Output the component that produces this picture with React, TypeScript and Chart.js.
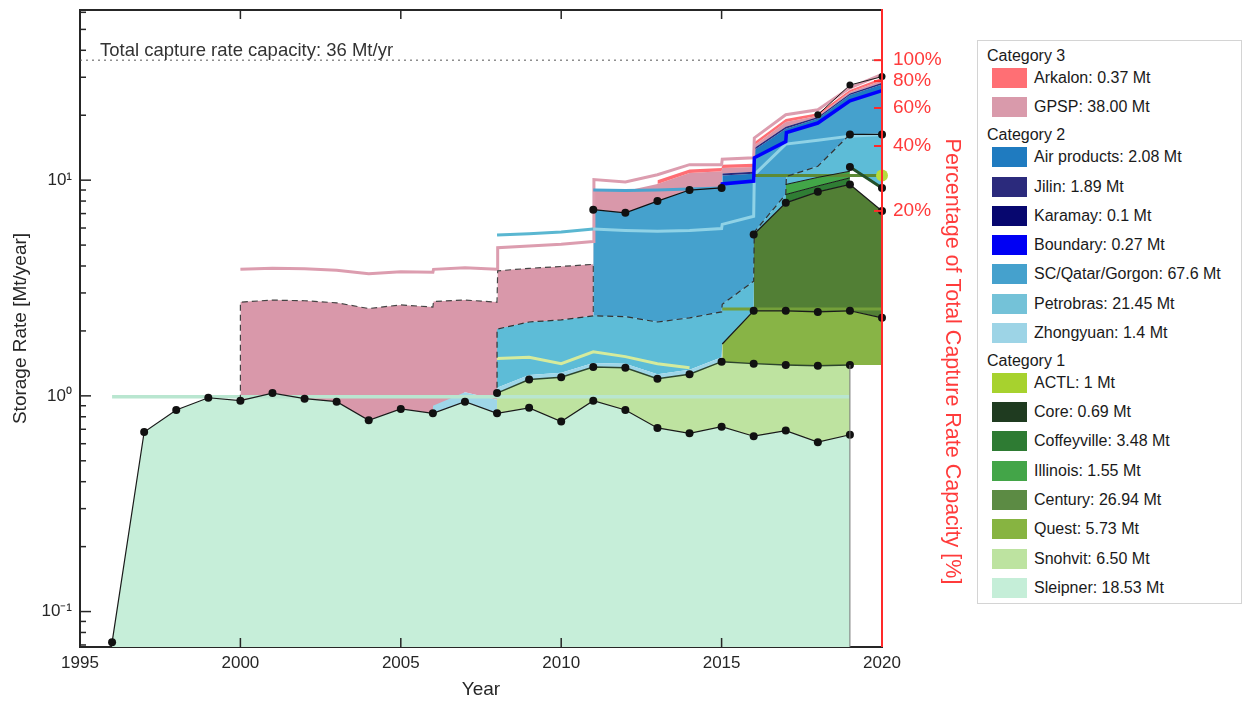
import React, { useEffect, useRef } from 'react';
import { Chart, registerables } from 'chart.js';

Chart.register(...registerables);

type Pt = { x: number; y: number };
const zip = (xs: number[], ys: number[]): Pt[] => xs.map((x, i) => ({ x, y: ys[i] }));

// ---------- axes ----------
const X_MIN = 1995;
const X_MAX = 2020;
const Y_MIN = 0.0685;
const Y_MAX = 61.5;
const TOTAL_CAPACITY = 36;
const xTickValues = [1995, 2000, 2005, 2010, 2015, 2020];
const yTickValues = [0.1, 1, 10];
const yTickLabels = ['10⁻¹', '10⁰', '10¹'];
const pctTickValues = [20, 40, 60, 80, 100];

// ---------- stacked boundaries (Mt/yr, cumulative tops) ----------
const sleipnerYears = [1996, 1997, 1998, 1999, 2000, 2001, 2002, 2003, 2004, 2005, 2006, 2007, 2008, 2009, 2010, 2011, 2012, 2013, 2014, 2015, 2016, 2017, 2018, 2019];
const sleipnerTop = [0.072, 0.68, 0.86, 0.98, 0.95, 1.03, 0.97, 0.94, 0.77, 0.87, 0.83, 0.94, 0.83, 0.88, 0.76, 0.95, 0.86, 0.71, 0.67, 0.72, 0.65, 0.69, 0.61, 0.66];

const snohvitYears = [2008, 2009, 2010, 2011, 2012, 2013, 2014, 2015, 2016, 2017, 2018, 2019];
const snohvitTop = [1.03, 1.19, 1.22, 1.36, 1.35, 1.2, 1.26, 1.44, 1.41, 1.39, 1.38, 1.39];

const zhongyuanEarlyYears = [2006, 2007, 2008];
const zhongyuanEarlyTop = [0.9, 1.04, 0.96];
const zhongyuanYears = [2008, 2009, 2010, 2011, 2012, 2013, 2014, 2015];
const zhongyuanTop = [1.09, 1.25, 1.28, 1.42, 1.41, 1.26, 1.32, 1.51];

const petrobrasYears = [2008, 2009, 2010, 2011, 2012, 2013, 2014, 2015, 2015.02, 2016, 2016.02, 2017, 2017.02, 2018, 2019, 2020];
const petrobrasTop = [2.04, 2.2, 2.25, 2.35, 2.33, 2.2, 2.3, 2.45, 2.66, 3.4, 5.75, 8.6, 10.4, 11.6, 16.3, 16.3];

const questYears = [2015.02, 2016, 2017, 2018, 2019, 2020];
const questTop = [1.74, 2.48, 2.48, 2.45, 2.48, 2.3];
const centuryYears = [2016, 2017, 2018, 2019, 2020];
const centuryTop = [5.6, 7.85, 8.83, 9.55, 7.2];
const coffeyvilleYears = [2017, 2018, 2019];
const coffeyvilleTop = [8.58, 9.4, 10.25];
const illinoisYears = [2017, 2018, 2019];
const illinoisTop = [9.55, 10.3, 11.0];
const coreYears = [2019, 2020];
const coreTop = [11.5, 9.2];
const actlYears = [2020];
const actlTop = [10.5];

const scqgYears = [2011, 2012, 2013, 2014, 2015, 2015.02, 2016, 2016.02, 2017, 2017.02, 2018, 2019, 2020];
const scqgTop = [7.3, 7.06, 8.0, 9.0, 9.2, 9.6, 9.9, 12.7, 15.1, 16.6, 18.4, 23.3, 26.0];

const airYears = [2015.02, 2016, 2016.02, 2017, 2018, 2019, 2020];
const airTop = [10.5, 10.7, 13.8, 17.3, 19.3, 24.8, 27.8];
const jilinTop = [10.75, 10.95, 14.1, 17.7, 19.65, 25.2, 28.3];

const gpspYears = [2000, 2001, 2002, 2003, 2004, 2005, 2006, 2006.02, 2007, 2008, 2008.02, 2009, 2010, 2011, 2011.02, 2012, 2013, 2014, 2015, 2015.02, 2016, 2016.02, 2017, 2018, 2019, 2020];
const gpspTop = [2.72, 2.78, 2.76, 2.7, 2.54, 2.64, 2.58, 2.74, 2.78, 2.72, 3.8, 3.9, 3.98, 4.07, 8.9, 8.9, 9.6, 10.8, 11.0, 11.4, 11.5, 14.5, 18.6, 19.9, 25.6, 29.0];

const arkalonYears = [2013, 2014, 2015, 2015.02, 2016, 2016.02, 2017, 2018, 2019, 2020];
const arkalonTop = [10.0, 11.2, 11.4, 11.8, 11.9, 15.0, 19.2, 20.4, 26.2, 29.8];

const stackTopYears = [2018, 2019, 2020];
const stackTopValues = [20.1, 27.6, 30.2];

// ---------- capacity lines ----------
const sleipnerCapYears = [1996, 2019];
const sleipnerCap = [0.99, 0.99];
const snohvitCapYears = [2008, 2009, 2010, 2011, 2012, 2013, 2014];
const snohvitCap = [1.49, 1.51, 1.41, 1.6, 1.52, 1.41, 1.35];
const questCapYears = [2015.02, 2020];
const questCap = [2.53, 2.53];
const centuryCapYears = [2016, 2020];
const centuryCap = [10.5, 10.5];
const petrobrasCapYears = [2008, 2009, 2010, 2011, 2012, 2013, 2014, 2015, 2015.02, 2016, 2016.02, 2017, 2018, 2019, 2020];
const petrobrasCap = [5.57, 5.65, 5.75, 5.93, 5.85, 5.8, 5.85, 5.97, 6.24, 6.8, 10.6, 14.7, 15.3, 16.0, 16.3];
const scqgCapYears = [2011, 2012, 2013, 2014, 2015];
const scqgCap = [9.0, 8.95, 9.0, 9.1, 9.2];
const gpspCapYears = [2000, 2001, 2002, 2003, 2004, 2005, 2006, 2006.02, 2007, 2008, 2008.02, 2009, 2010, 2011, 2011.02, 2012, 2013, 2014, 2015, 2015.02, 2016, 2016.02, 2017, 2018, 2019, 2020];
const gpspCap = [3.86, 3.9, 3.88, 3.82, 3.68, 3.76, 3.74, 3.86, 3.93, 3.86, 4.86, 4.95, 5.05, 5.2, 10.07, 9.8, 10.6, 11.8, 11.8, 12.5, 12.7, 15.7, 20.1, 21.2, 26.8, 30.9];

// ---------- legend ----------
const legendGroups = [
  { title: 'Category 3', items: [
    { label: 'Arkalon: 0.37 Mt', color: '#ff6f74' },
    { label: 'GPSP: 38.00 Mt', color: '#d99aab' },
  ] },
  { title: 'Category 2', items: [
    { label: 'Air products: 2.08 Mt', color: '#1f7bc0' },
    { label: 'Jilin: 1.89 Mt', color: '#2b2a7c' },
    { label: 'Karamay: 0.1 Mt', color: '#07076f' },
    { label: 'Boundary: 0.27 Mt', color: '#0000f4' },
    { label: 'SC/Qatar/Gorgon: 67.6 Mt', color: '#45a1cd' },
    { label: 'Petrobras: 21.45 Mt', color: '#74c2d8' },
    { label: 'Zhongyuan: 1.4 Mt', color: '#9dd4e6' },
  ] },
  { title: 'Category 1', items: [
    { label: 'ACTL: 1 Mt', color: '#a7d22e' },
    { label: 'Core: 0.69 Mt', color: '#1f3b20' },
    { label: 'Coffeyville: 3.48 Mt', color: '#2e7b33' },
    { label: 'Illinois: 1.55 Mt', color: '#43a548' },
    { label: 'Century: 26.94 Mt', color: '#5c8b44' },
    { label: 'Quest: 5.73 Mt', color: '#87b441' },
    { label: 'Snohvit: 6.50 Mt', color: '#bde3a0' },
    { label: 'Sleipner: 18.53 Mt', color: '#c5eed8' },
  ] },
];

const FONT = '"Liberation Sans", Arial, Helvetica, sans-serif';

function valueAt(pts: Pt[], x: number): number {
  if (x <= pts[0].x) return pts[0].y;
  for (let i = 1; i < pts.length; i++) {
    const a = pts[i - 1];
    const b = pts[i];
    if (x <= b.x) {
      if (b.x === a.x) return b.y;
      const t = (x - a.x) / (b.x - a.x);
      return Math.exp(Math.log(a.y) + t * (Math.log(b.y) - Math.log(a.y)));
    }
  }
  return pts[pts.length - 1].y;
}

function buildDatasets() {
  const sleipner = zip(sleipnerYears, sleipnerTop);
  const snohvit = zip(snohvitYears, snohvitTop);
  const zhongEarly = zip(zhongyuanEarlyYears, zhongyuanEarlyTop);
  const zhong = zip(zhongyuanYears, zhongyuanTop);
  const petrobras = zip(petrobrasYears, petrobrasTop);
  const quest = zip(questYears, questTop);
  const century = zip(centuryYears, centuryTop);
  const coffeyville = zip(coffeyvilleYears, coffeyvilleTop);
  const illinois = zip(illinoisYears, illinoisTop);
  const core = zip(coreYears, coreTop);
  const scqg = zip(scqgYears, scqgTop);
  const air = zip(airYears, airTop);
  const jilin = zip(airYears, jilinTop);
  const gpsp = zip(gpspYears, gpspTop);
  const arkalon = zip(arkalonYears, arkalonTop);

  // lower boundaries assembled from the layers underneath
  const questBase = quest.map((p) => ({ x: p.x, y: valueAt(snohvit, p.x) }));
  const petroFloor: Pt[] = [
    ...zhong,
    ...quest.filter((p) => p.x <= 2016),
    { x: 2016.02, y: valueAt(century, 2016.02) },
    { x: 2017, y: valueAt(century, 2017) },
    { x: 2017.02, y: illinois[0].y },
    ...illinois.slice(1),
    { x: 2019.02, y: valueAt(core, 2019.02) },
    ...core.slice(1),
  ];
  const gpspFloor: Pt[] = [
    ...sleipner.filter((p) => p.x >= 2000 && p.x <= 2006),
    ...zhongEarly.filter((p) => p.x > 2006),
    { x: 2008.02, y: petrobras[0].y },
    ...petrobras.filter((p) => p.x > 2008 && p.x <= 2011),
    { x: 2011.02, y: scqg[0].y },
    ...scqg.filter((p) => p.x > 2011 && p.x <= 2015),
    ...jilin,
  ];

  const gpspEdge: Pt[] = [{ x: 2000, y: valueAt(sleipner, 2000) }, ...gpsp.filter((p) => p.x <= 2011), { x: 2011, y: valueAt(petrobras, 2011) }];
  const petroEdge: Pt[] = [{ x: 2008, y: valueAt(zhong, 2008) }, ...petrobras.filter((p) => p.x <= 2019)];

  type Spec = {
    id: string; kind: 'floor' | 'area' | 'line'; data: Pt[]; color?: string; fillTo?: string;
    width?: number; dash?: number[]; dots?: number; dotColor?: string; segColor?: (x: number) => string;
  };

  const specs: Spec[] = [
    { id: 'qb', kind: 'floor', data: questBase },
    { id: 'pf', kind: 'floor', data: petroFloor },
    { id: 'gf', kind: 'floor', data: gpspFloor },

    { id: 'gpsp', kind: 'area', data: gpsp, color: '#d998aa', fillTo: 'gf' },
    { id: 'arkalon', kind: 'area', data: arkalon, color: '#ff6e74', fillTo: 'gpsp' },
    { id: 'petrobras', kind: 'area', data: petrobras, color: '#5dbcd7', fillTo: 'pf' },
    { id: 'scqg', kind: 'area', data: scqg, color: '#45a1cd', fillTo: 'petrobras' },
    { id: 'air', kind: 'area', data: air, color: '#1f7bc0', fillTo: 'scqg' },
    { id: 'jilin', kind: 'area', data: jilin, color: '#2b2b7c', fillTo: 'air' },
    { id: 'sleipner', kind: 'area', data: sleipner, color: '#c6eed9', fillTo: 'start' },
    { id: 'zhongEarly', kind: 'area', data: zhongEarly, color: '#9fd6e8', fillTo: 'sleipner' },
    { id: 'snohvit', kind: 'area', data: snohvit, color: '#bee3a0', fillTo: 'sleipner' },
    { id: 'zhong', kind: 'area', data: zhong, color: '#9fd6e8', fillTo: 'snohvit' },
    { id: 'quest', kind: 'area', data: quest, color: '#88b446', fillTo: 'qb' },
    { id: 'century', kind: 'area', data: century, color: '#527f35', fillTo: 'quest' },
    { id: 'coffeyville', kind: 'area', data: coffeyville, color: '#2f7d34', fillTo: 'century' },
    { id: 'illinois', kind: 'area', data: illinois, color: '#42a648', fillTo: 'coffeyville' },

    { id: 'sleipnerCap', kind: 'line', data: zip(sleipnerCapYears, sleipnerCap), color: '#b9e6d0', width: 3.5 },
    { id: 'snohvitCap', kind: 'line', data: zip(snohvitCapYears, snohvitCap), color: '#d5eb9c', width: 3 },
    { id: 'gpspCap', kind: 'line', data: zip(gpspCapYears, gpspCap), color: '#dc9daf', width: 3 },
    { id: 'petroCap', kind: 'line', data: zip(petrobrasCapYears, petrobrasCap), color: '#5ab7d1', width: 3,
      segColor: (x) => (x >= 2011 ? '#8fd2e6' : '#5ab7d1') },
    { id: 'scqgCap', kind: 'line', data: zip(scqgCapYears, scqgCap), color: '#4aa3cf', width: 3 },
    { id: 'questCap', kind: 'line', data: zip(questCapYears, questCap), color: '#74a03a', width: 3 },
    { id: 'centuryCap', kind: 'line', data: zip(centuryCapYears, centuryCap), color: '#5d8a35', width: 3 },

    { id: 'gpspEdge', kind: 'line', data: gpspEdge, color: '#444', width: 1.2, dash: [6, 4] },
    { id: 'petroEdge', kind: 'line', data: petroEdge, color: '#333', width: 1.2, dash: [6, 4] },
    { id: 'petroTopSolid', kind: 'line', data: petrobras.filter((p) => p.x >= 2019), color: '#111', width: 1.2, dots: 4 },
    { id: 'boundaryLine', kind: 'line', data: scqg.filter((p) => p.x >= 2015), color: '#0000ff', width: 3.5 },
    { id: 'scqgLine', kind: 'line', data: scqg.filter((p) => p.x <= 2015), color: '#111', width: 1.2, dots: 4 },
    { id: 'sleipnerLine', kind: 'line', data: sleipner, color: '#1a1a1a', width: 1.2, dots: 4 },
    { id: 'snohvitLine', kind: 'line', data: snohvit, color: '#2d452d', width: 1.4, dots: 4 },
    { id: 'questLine', kind: 'line', data: quest, color: '#1a1a1a', width: 1.2, dots: 4 },
    { id: 'centuryLine', kind: 'line', data: century, color: '#1a1a1a', width: 1.2, dots: 4 },
    { id: 'coffeyvilleLine', kind: 'line', data: coffeyville, color: '#1a1a1a', width: 1 },
    { id: 'illinoisLine', kind: 'line', data: illinois, color: '#1a1a1a', width: 1 },
    { id: 'coreLine', kind: 'line', data: core, color: '#24502a', width: 3, dots: 4 },
    { id: 'stackTop', kind: 'line', data: zip(stackTopYears, stackTopValues), color: '#1a1a1a', width: 1, dots: 3.5 },
    { id: 'sleipnerEnd', kind: 'line', data: [{ x: 2019, y: Y_MIN }, { x: 2019, y: valueAt(snohvit, 2019) }], color: '#777', width: 1 },
    { id: 'actl', kind: 'line', data: zip(actlYears, actlTop), color: '#b5dc3c', width: 0, dots: 6, dotColor: '#b5dc3c' },
  ];

  const index: Record<string, number> = {};
  specs.forEach((s, i) => { index[s.id] = i; });
  const n = specs.length;

  return specs.map((s, i) => {
    const base: any = {
      type: 'line',
      label: s.id,
      data: s.data,
      order: n - i,
      tension: 0,
      clip: 6,
    };
    if (s.kind === 'floor') {
      return { ...base, borderWidth: 0, borderColor: 'rgba(0,0,0,0)', backgroundColor: 'rgba(0,0,0,0)', pointRadius: 0, fill: false };
    }
    if (s.kind === 'area') {
      const fill = s.fillTo === 'start' ? 'start' : index[s.fillTo as string];
      return { ...base, borderWidth: 0, borderColor: 'rgba(0,0,0,0)', backgroundColor: s.color, pointRadius: 0, fill };
    }
    const r = s.dots || 0;
    const ds: any = {
      ...base,
      fill: false,
      borderColor: s.color,
      borderWidth: s.width,
      borderDash: s.dash || [],
      borderCapStyle: 'butt',
      pointRadius: (c: any) => (c.raw && Number.isInteger(c.raw.x) ? r : 0),
      pointBackgroundColor: s.dotColor || '#111',
      pointBorderWidth: 0,
      showLine: (s.width || 0) > 0,
    };
    if (s.segColor) {
      const f = s.segColor;
      ds.segment = { borderColor: (c: any) => f(c.p0.parsed.x) };
    }
    return ds;
  });
}

const decorPlugin = {
  id: 'decor',
  afterDatasetsDraw(chart: any) {
    const { ctx, chartArea: a, scales } = chart;
    const xs = scales.x;
    const ys = scales.y;
    const y2 = scales.y2;
    ctx.save();
    // total capacity dotted line
    const yCap = ys.getPixelForValue(TOTAL_CAPACITY);
    ctx.strokeStyle = '#555';
    ctx.lineWidth = 1;
    ctx.setLineDash([2, 4]);
    ctx.beginPath();
    ctx.moveTo(a.left, yCap);
    ctx.lineTo(a.right, yCap);
    ctx.stroke();
    ctx.setLineDash([]);
    ctx.fillStyle = '#333';
    ctx.font = '18.5px ' + FONT;
    ctx.textAlign = 'left';
    ctx.textBaseline = 'alphabetic';
    ctx.fillText('Total capture rate capacity: ' + TOTAL_CAPACITY + ' Mt/yr', a.left + 20, yCap - 4);
    // top frame
    ctx.strokeStyle = '#262626';
    ctx.lineWidth = 2;
    ctx.beginPath();
    ctx.moveTo(a.left, a.top);
    ctx.lineTo(a.right, a.top);
    ctx.stroke();
    // inward x ticks (bottom & top)
    ctx.lineWidth = 1.5;
    for (const v of xTickValues) {
      const px = xs.getPixelForValue(v);
      ctx.beginPath();
      ctx.moveTo(px, a.bottom);
      ctx.lineTo(px, a.bottom - 9);
      ctx.moveTo(px, a.top);
      ctx.lineTo(px, a.top + 9);
      ctx.stroke();
    }
    // inward y ticks (major + minor)
    for (let e = -2; e <= 2; e++) {
      for (let m = 1; m <= 9; m++) {
        const v = m * Math.pow(10, e);
        if (v < Y_MIN || v > Y_MAX) continue;
        const py = ys.getPixelForValue(v);
        const len = m === 1 ? 11 : 6;
        ctx.beginPath();
        ctx.moveTo(a.left, py);
        ctx.lineTo(a.left + len, py);
        ctx.stroke();
      }
    }
    // red right axis line and percentage ticks
    ctx.strokeStyle = '#ff2a2a';
    ctx.lineWidth = 2;
    ctx.beginPath();
    ctx.moveTo(a.right, a.top - 1);
    ctx.lineTo(a.right, a.bottom);
    ctx.stroke();
    for (const p of pctTickValues) {
      const py = y2.getPixelForValue(p);
      ctx.beginPath();
      ctx.moveTo(a.right - 8, py);
      ctx.lineTo(a.right, py);
      ctx.stroke();
    }
    // right axis title
    ctx.fillStyle = '#ff3b3b';
    ctx.font = '21.5px ' + FONT;
    ctx.translate(a.right + 70, (a.top + a.bottom) / 2 + 33);
    ctx.rotate(Math.PI / 2);
    ctx.textAlign = 'center';
    ctx.textBaseline = 'middle';
    ctx.fillText('Percentage of Total Capture Rate Capacity [%]', 0, 0);
    ctx.restore();
  },
};

const zeroPad = (s: any) => {
  s.paddingTop = 0;
  s.paddingBottom = 0;
  s.paddingLeft = 0;
  s.paddingRight = 0;
};

export default function App() {
  const ref = useRef<HTMLCanvasElement | null>(null);

  useEffect(() => {
    const canvas = ref.current;
    if (!canvas) return;
    Chart.defaults.font.family = FONT;
    const chart = new Chart(canvas, {
      type: 'line',
      data: { datasets: buildDatasets() },
      plugins: [decorPlugin],
      options: {
        responsive: false,
        animation: false,
        devicePixelRatio: 1,
        layout: { padding: { left: 0, right: 274, top: 10, bottom: 0 } },
        plugins: { legend: { display: false }, tooltip: { enabled: false } },
        scales: {
          x: {
            type: 'linear', min: X_MIN, max: X_MAX, bounds: 'data', z: 1,
            afterBuildTicks: (s: any) => { s.ticks = xTickValues.map((v) => ({ value: v })); },
            afterFit: (s: any) => { s.height = 55; zeroPad(s); },
            grid: { display: false, drawTicks: false },
            border: { display: true, color: '#262626', width: 2 },
            ticks: { color: '#262626', font: { size: 17 }, padding: 6, maxRotation: 0, autoSkip: false, callback: (v: any) => String(v) },
            title: { display: true, text: 'Year', color: '#262626', font: { size: 19 }, padding: { top: 0, bottom: 1 } },
          },
          y: {
            type: 'logarithmic', position: 'left', min: Y_MIN, max: Y_MAX, bounds: 'data', z: 1,
            afterBuildTicks: (s: any) => { s.ticks = yTickValues.map((v) => ({ value: v })); },
            afterFit: (s: any) => { s.width = 80; zeroPad(s); },
            grid: { display: false, drawTicks: false },
            border: { display: true, color: '#262626', width: 2 },
            ticks: { color: '#262626', font: { size: 17 }, padding: 8, autoSkip: false, callback: (_v: any, i: number) => yTickLabels[i] },
            title: { display: true, text: 'Storage Rate [Mt/year]', color: '#262626', font: { size: 19 }, padding: { top: 9, bottom: 0 } },
          },
          y2: {
            type: 'logarithmic', position: 'right', min: (Y_MIN / TOTAL_CAPACITY) * 100, max: (Y_MAX / TOTAL_CAPACITY) * 100, bounds: 'data', z: 1,
            afterBuildTicks: (s: any) => { s.ticks = pctTickValues.map((v) => ({ value: v })); },
            afterFit: (s: any) => { s.width = 90; zeroPad(s); },
            grid: { display: false, drawTicks: false },
            border: { display: false },
            ticks: { color: '#ff3b3b', font: { size: 19 }, padding: 11, autoSkip: false, callback: (v: any) => v + '%' },
          },
        },
      } as any,
    });
    return () => chart.destroy();
  }, []);

  return (
    <div style={{ position: 'fixed', left: 0, top: 0, width: 1246, height: 702, background: '#fff', fontFamily: FONT }}>
      <canvas ref={ref} width={1246} height={702} style={{ position: 'absolute', left: 0, top: 0, width: 1246, height: 702 }} />
      <div style={{ position: 'absolute', left: 977, top: 40, width: 265, height: 564, border: '1px solid #d4d4d4', boxSizing: 'border-box', paddingTop: 2, background: '#fff' }}>
        {legendGroups.map((g) => (
          <div key={g.title}>
            <div style={{ height: 20.5, lineHeight: '20.5px', fontSize: 16, paddingLeft: 9, position: 'relative', top: 3.4, color: '#1a1a1a' }}>{g.title}</div>
            {g.items.map((it) => (
              <div key={it.label} style={{ height: 29.3, display: 'flex', alignItems: 'center' }}>
                <div style={{ width: 35, height: 20, marginLeft: 14, background: it.color, flex: '0 0 auto' }} />
                <div style={{ marginLeft: 7, fontSize: 16, color: '#1a1a1a', whiteSpace: 'nowrap' }}>{it.label}</div>
              </div>
            ))}
          </div>
        ))}
      </div>
    </div>
  );
}
